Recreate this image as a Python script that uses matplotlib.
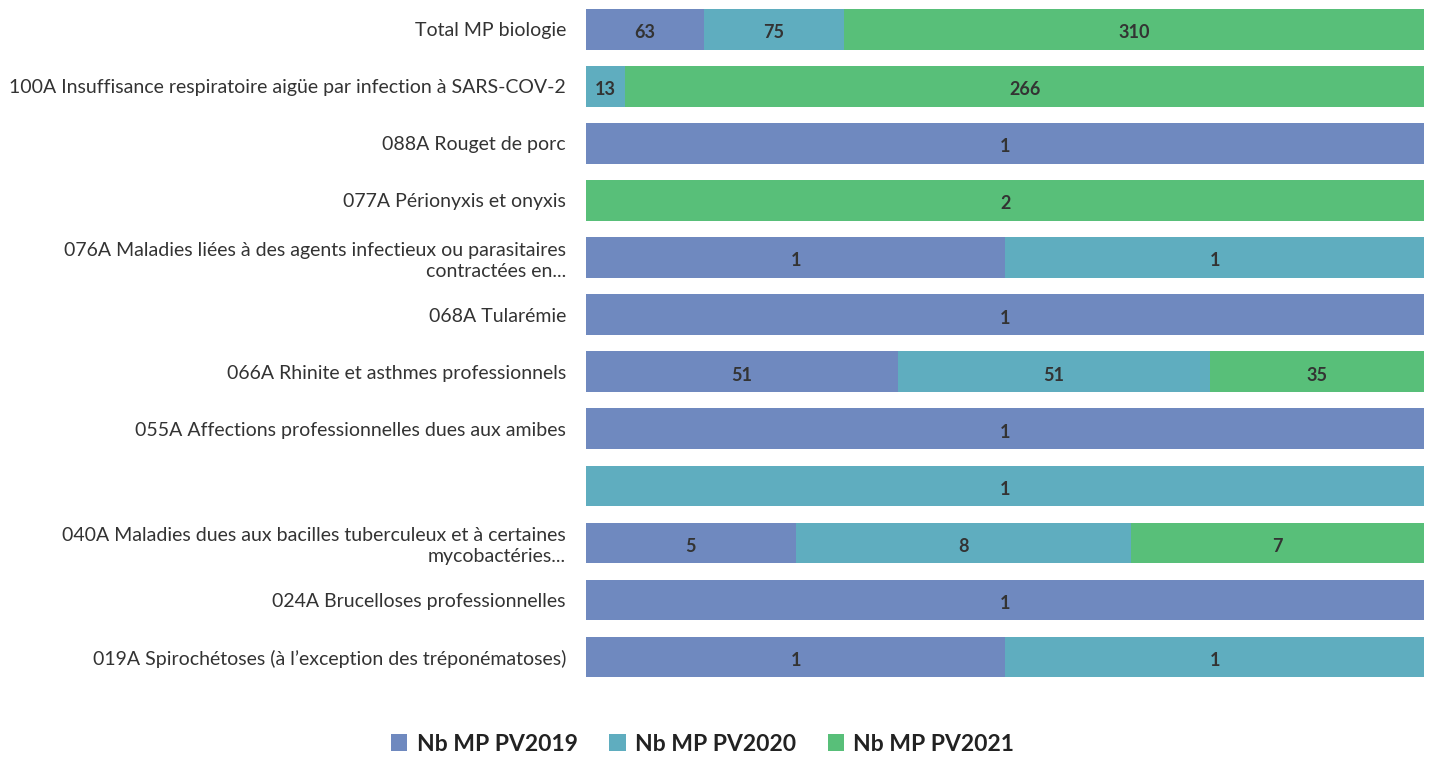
import numpy as np
import matplotlib.pyplot as plt

plt.rcParams['font.family'] = ['Lato', 'DejaVu Sans']

categories = [
    "Total MP biologie",
    "100A Insuffisance respiratoire aigüe par infection à SARS-COV-2",
    "088A Rouget de porc",
    "077A Périonyxis et onyxis",
    "076A Maladies liées à des agents infectieux ou parasitaires\ncontractées en...",
    "068A Tularémie",
    "066A Rhinite et asthmes professionnels",
    "055A Affections professionnelles dues aux amibes",
    "",
    "040A Maladies dues aux bacilles tuberculeux et à certaines\nmycobactéries...",
    "024A Brucelloses professionnelles",
    "019A Spirochétoses (à l\u2019exception des tréponématoses)",
]
pv2019 = [63, 0, 1, 0, 1, 1, 51, 1, 0, 5, 1, 1]
pv2020 = [75, 13, 0, 0, 1, 0, 51, 0, 1, 8, 0, 1]
pv2021 = [310, 266, 0, 2, 0, 0, 35, 0, 0, 7, 0, 0]
series_names = ["Nb MP PV2019", "Nb MP PV2020", "Nb MP PV2021"]
colors = ["#6f89bf", "#5fadbf", "#58bf79"]

data = np.array([pv2019, pv2020, pv2021], dtype=float)
totals = data.sum(axis=0)
shares = data / totals

fig = plt.figure(figsize=(14.34, 7.6), dpi=100)
ax = fig.add_axes([0.4087, 0.098, 0.5844, 0.901])

y = np.arange(len(categories))
left = np.zeros(len(categories))
for i in range(3):
    ax.barh(y, shares[i], left=left, height=0.71, color=colors[i],
            label=series_names[i])
    for j in range(len(categories)):
        if data[i, j] > 0:
            ax.text(left[j] + shares[i, j] / 2, y[j] + 0.06, "%d" % data[i, j],
                    ha='center', va='center', fontsize=13, fontweight='bold',
                    color='#333333')
    left += shares[i]

ax.set_xlim(0, 1)
ax.set_ylim(len(categories) - 0.5, -0.5)
ax.set_yticks(y)
ax.set_yticklabels(categories, fontsize=14, color='#333333', linespacing=1.25)
for lbl in ax.get_yticklabels():
    lbl.set_y(lbl.get_position()[1])
ax.tick_params(axis='y', length=0, pad=14.5)
ax.set_xticks([])
for s in ax.spines.values():
    s.set_visible(False)

fig.legend(loc='center', bbox_to_anchor=(0.49, 0.021), ncol=3, frameon=False,
           prop={'size': 16.5, 'weight': 'bold'}, handlelength=0.7,
           handleheight=0.7, handletextpad=0.4, columnspacing=1.4,
           labelcolor='#222222')

fig.savefig("out.png", dpi=100)
